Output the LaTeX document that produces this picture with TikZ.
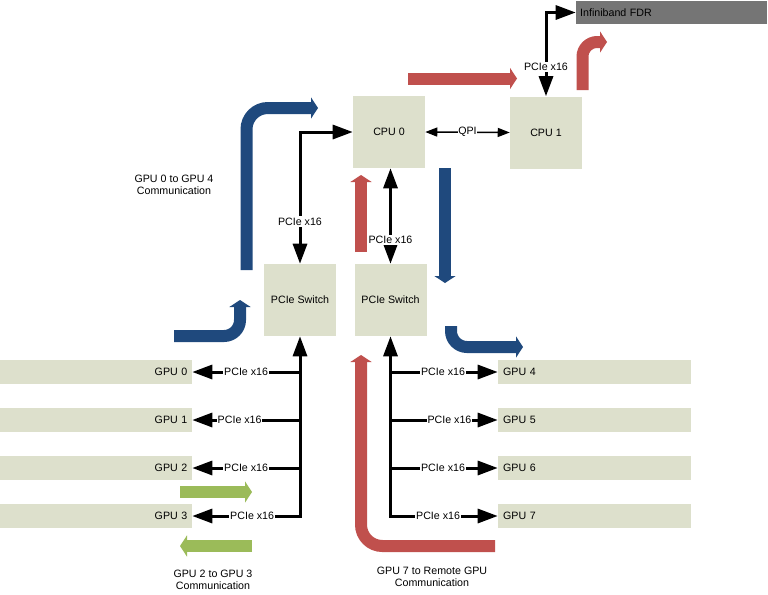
\documentclass[tikz,border=0pt]{standalone}
\usepackage{fontspec}
\setmainfont{Liberation Sans}
\usetikzlibrary{arrows.meta}
\definecolor{boxc}{RGB}{221,224,204}
\definecolor{ibc}{RGB}{117,117,117}
\definecolor{fblue}{HTML}{1F497D}
\definecolor{fred}{HTML}{C0504D}
\definecolor{fgreen}{HTML}{9BBB59}
\tikzset{
  box/.style={fill=boxc, minimum width=54pt, minimum height=54pt, inner sep=0pt},
  gpuL/.style={fill=boxc, minimum width=144pt, minimum height=18pt, inner sep=0pt, text width=137pt, align=right},
  gpuR/.style={fill=boxc, minimum width=144.75pt, minimum height=18pt, inner sep=0pt, text width=137pt, align=left},
  ibbox/.style={fill=ibc, minimum width=143.25pt, minimum height=17.25pt, inner sep=0pt, text width=137pt, align=left},
  tipb/.tip={Triangle[length=15pt,width=10.5pt]},
  tips/.tip={Triangle[length=9pt,width=6.75pt]},
  conn/.style={line width=2.25pt, tipb-tipb},
  connto/.style={line width=2.25pt, -tipb},
  thinconn/.style={line width=1.1pt, tips-tips},
  lab/.style={fill=white, inner xsep=0.6pt, inner ysep=1pt},
  fat/.style={line width=9pt, -{Triangle[length=5.25pt,width=16pt,line width=0pt]}},
  caption/.style={align=center}
}
\begin{document}
\begin{tikzpicture}[x=0.75pt,y=-0.75pt,font=\fontsize{8}{9}\selectfont]
\useasboundingbox (0,0) rectangle (768,594);
% nodes
\node[box] (cpu0) at (389,132) {CPU 0};
\node[box] (cpu1) at (546,132.5) {CPU 1};
\node[box] (swL) at (300,300) {PCIe Switch};
\node[box] (swR) at (390.5,300) {PCIe Switch};
\node[ibbox] (ib) at (671.5,12.5) {Infiniband FDR};
\node[gpuL] (gpu0) at (96,372) {GPU 0};
\node[gpuL] (gpu1) at (96,420) {GPU 1};
\node[gpuL] (gpu2) at (96,468) {GPU 2};
\node[gpuL] (gpu3) at (96,516) {GPU 3};
\node[gpuR] (gpu4) at (594.5,372) {GPU 4};
\node[gpuR] (gpu5) at (594.5,420) {GPU 5};
\node[gpuR] (gpu6) at (594.5,468) {GPU 6};
\node[gpuR] (gpu7) at (594.5,516) {GPU 7};
% captions
\node[caption] (c04) at (174,185) {GPU 0 to GPU 4\\Communication};
\node[caption] (c23) at (213,580) {GPU 2 to GPU 3\\Communication};
\node[caption] (c7r) at (432,577) {GPU 7 to Remote GPU\\Communication};
% fat arrows
\draw[fat, fblue, rounded corners=16pt] (246.5,270) -- (246.5,108) -- (318,108);
\draw[fat, fblue] (445,168) -- (445,283);
\draw[fat, fblue, rounded corners=12pt] (451,326) -- (451,347) -- (523,347);
\draw[fat, fblue, rounded corners=12pt] (174,336) -- (240,336) -- (240,300);
\draw[fat, fred] (408,78.5) -- (517,78.5);
\draw[fat, fred, rounded corners=11pt] (582.5,90) -- (582.5,42) -- (607,42);
\draw[fat, fred] (361,252) -- (361,175);
\draw[fat, fred, rounded corners=16pt] (495,546) -- (361,546) -- (361,355);
\draw[fat, fgreen] (180,492) -- (252,492);
\draw[fat, fgreen] (252,546) -- (180,546);
% connectors
\draw[conn] (swL.north) |- node[lab, pos=0.16] {PCIe x16} (cpu0.west);
\draw[conn] (swR.north) -- node[lab, pos=0.25] {PCIe x16} (swR.north |- cpu0.south);
\draw[thinconn] (cpu0.east) -- node[lab] {QPI} (cpu1.west);
\draw[conn] (cpu1.north) |- node[lab, pos=0.174] {PCIe x16} (ib.west);
% left tree
\draw[conn] (gpu3.east) -| node[lab, pos=0.278] {PCIe x16} (swL.south);
\draw[connto] (swL.south |- gpu0.east) -- node[lab, pos=0.5] {PCIe x16} (gpu0.east);
\draw[connto] (swL.south |- gpu1.east) -- node[lab, pos=0.56] {PCIe x16} (gpu1.east);
\draw[connto] (swL.south |- gpu2.east) -- node[lab, pos=0.5] {PCIe x16} (gpu2.east);
% right tree
\draw[conn] (gpu7.west) -| node[lab, pos=0.278] {PCIe x16} (swR.south);
\draw[connto] (swR.south |- gpu4.west) -- node[lab, pos=0.49] {PCIe x16} (gpu4.west);
\draw[connto] (swR.south |- gpu5.west) -- node[lab, pos=0.55] {PCIe x16} (gpu5.west);
\draw[connto] (swR.south |- gpu6.west) -- node[lab, pos=0.49] {PCIe x16} (gpu6.west);
\end{tikzpicture}
\end{document}
